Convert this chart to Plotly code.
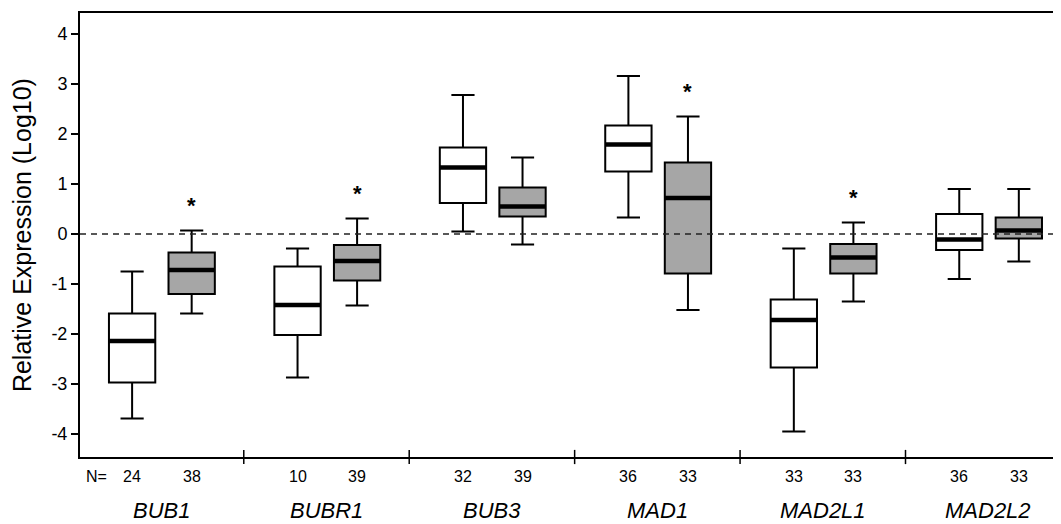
import plotly.graph_objects as go

genes = ["BUB1", "BUBR1", "BUB3", "MAD1", "MAD2L1", "MAD2L2"]

# White boxes (first group)
w_low = [-3.69, -2.87, 0.05, 0.33, -3.95, -0.90]
w_q1 = [-2.97, -2.02, 0.62, 1.25, -2.67, -0.32]
w_med = [-2.14, -1.42, 1.33, 1.79, -1.72, -0.11]
w_q3 = [-1.59, -0.65, 1.73, 2.17, -1.31, 0.40]
w_high = [-0.75, -0.29, 2.78, 3.16, -0.29, 0.90]
w_n = [24, 10, 32, 36, 33, 36]

# Gray boxes (second group)
g_low = [-1.59, -1.43, -0.21, -1.52, -1.35, -0.55]
g_q1 = [-1.20, -0.93, 0.35, -0.79, -0.79, -0.09]
g_med = [-0.72, -0.54, 0.55, 0.72, -0.47, 0.07]
g_q3 = [-0.37, -0.22, 0.93, 1.43, -0.20, 0.33]
g_high = [0.07, 0.31, 1.53, 2.35, 0.23, 0.90]
g_n = [38, 39, 39, 33, 33, 33]
significant = [True, True, False, True, True, False]

y_ticks = [-4, -3, -2, -1, 0, 1, 2, 3, 4]
y_tick_text = ["-4", "-3", "-2", "-1", "0", "1", "2", "3", "4"]

OFF_W, OFF_G, BW = -0.175, 0.185, 0.28
xw = [i + OFF_W for i in range(len(genes))]
xg = [i + OFF_G for i in range(len(genes))]

fig = go.Figure()
box_common = dict(boxpoints=False, width=BW, whiskerwidth=0.5,
                  line=dict(color="black", width=2), showlegend=False,
                  hoverinfo="skip")
fig.add_trace(go.Box(x=xw, q1=w_q1, median=w_med, q3=w_q3,
                     lowerfence=w_low, upperfence=w_high,
                     fillcolor="white", **box_common))
fig.add_trace(go.Box(x=xg, q1=g_q1, median=g_med, q3=g_q3,
                     lowerfence=g_low, upperfence=g_high,
                     fillcolor="#a6a6a6", **box_common))

# thick median lines
for xs, meds in ((xw, w_med), (xg, g_med)):
    mx, my = [], []
    for x, m in zip(xs, meds):
        mx += [x - BW / 2, x + BW / 2, None]
        my += [m, m, None]
    fig.add_trace(go.Scatter(x=mx, y=my, mode="lines",
                             line=dict(color="black", width=4.5),
                             showlegend=False, hoverinfo="skip"))

shapes = [dict(type="line", xref="paper", yref="y", x0=0, x1=1, y0=0, y1=0,
               line=dict(color="#222222", width=1.6, dash="6px,5px"))]
for k in range(len(genes) - 1):
    shapes.append(dict(type="line", xref="x", yref="paper", x0=k + 0.5, x1=k + 0.5,
                       y0=-0.016, y1=0.016, line=dict(color="black", width=1.5)))

annotations = []
font = "Liberation Sans, Arial, sans-serif"
NY, GY = -0.043, -0.121
lab = dict(xref="x", yref="paper", showarrow=False, xanchor="center", yanchor="middle")
annotations.append(dict(x=-0.39, y=NY, text="N=",
                        font=dict(size=16, color="black", family=font), **lab))
for i, g in enumerate(genes):
    annotations.append(dict(x=xw[i], y=NY, text=str(w_n[i]),
                            font=dict(size=16, color="black", family=font), **lab))
    annotations.append(dict(x=xg[i], y=NY, text=str(g_n[i]),
                            font=dict(size=16, color="black", family=font), **lab))
    annotations.append(dict(x=i, y=GY, text=f"<i>{g}</i>",
                            font=dict(size=22, color="black", family=font), **lab))
    if significant[i]:
        annotations.append(dict(x=xg[i], y=g_high[i] + 0.55, xref="x", yref="y",
                                text="<b>*</b>", showarrow=False, yshift=-2,
                                xanchor="center", yanchor="middle",
                                font=dict(size=22, color="black", family=font)))
annotations.append(dict(x=-0.059, y=0.5, xref="paper", yref="paper", xanchor="center",
                        yanchor="middle",
                        text="Relative Expression (Log10)", textangle=-90,
                        showarrow=False, font=dict(size=25, color="black", family=font)))

# page body has an 8px margin: compensate so the plot area lands at x 80..1061, y 13..457
fig.update_layout(
    width=1053, height=516,
    margin=dict(l=72, r=0, t=5, b=67),
    plot_bgcolor="white", paper_bgcolor="white",
    shapes=shapes, annotations=annotations,
    xaxis=dict(range=[-0.49, 5.44], showgrid=False, zeroline=False,
               showline=True, linecolor="black", linewidth=2, mirror=True,
               showticklabels=False, ticks=""),
    yaxis=dict(range=[-4.46, 4.42], tickvals=y_ticks, ticktext=y_tick_text,
               showgrid=False, zeroline=False, showline=True, linecolor="black",
               linewidth=2, ticks="outside", ticklen=7, tickwidth=1.5,
               tickcolor="black",
               tickfont=dict(size=18, color="black", family=font)),
)
fig.write_html("out.html")
